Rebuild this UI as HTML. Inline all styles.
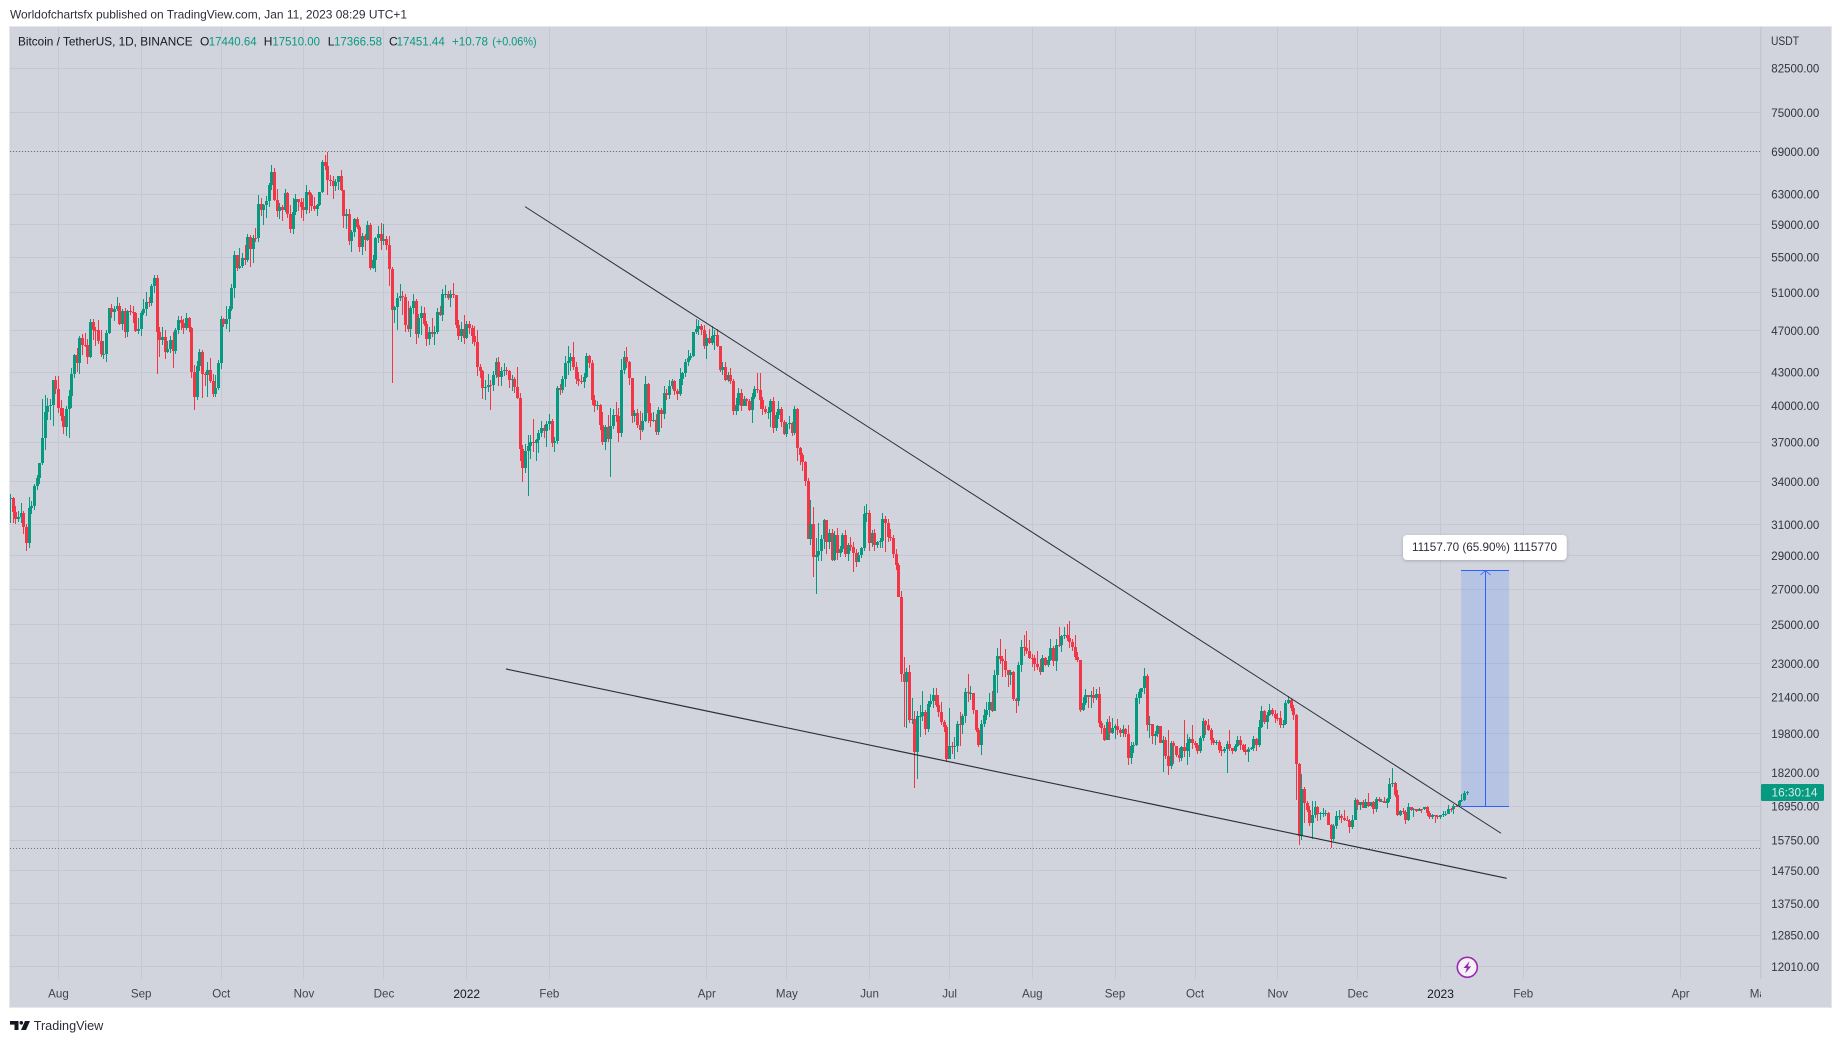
<!DOCTYPE html>
<html lang="en">
<head>
<meta charset="utf-8">
<title>BTCUSDT 1D chart</title>
<style>
html,body{margin:0;padding:0;background:#fff;width:1841px;height:1043px;overflow:hidden}
svg{display:block;font-family:"Liberation Sans",sans-serif}
text{dominant-baseline:central}
</style>
</head>
<body>
<svg id="chart" width="1841" height="1043" viewBox="0 0 1841 1043" xmlns="http://www.w3.org/2000/svg">
  <defs>
    <clipPath id="time-clip"><rect x="10" y="979" width="1751" height="28"/></clipPath>
    <clipPath id="plot-clip"><rect x="10" y="27" width="1751" height="952"/></clipPath>
    <filter id="label-shadow" x="-10%" y="-30%" width="120%" height="170%"><feDropShadow dx="0" dy="1" stdDeviation="1.5" flood-color="#000" flood-opacity="0.2"/></filter>
  </defs>
  <rect x="0" y="0" width="1841" height="1043" fill="#ffffff"/>
  <text x="10" y="14.7" font-size="12" fill="#2a2e39" textLength="397" lengthAdjust="spacingAndGlyphs">Worldofchartsfx published on TradingView.com, Jan 11, 2023 08:29 UTC+1</text>
  <rect x="9" y="26" width="1823" height="982" fill="#e4e6ec"/>
  <rect x="10" y="27" width="1821" height="980" fill="#d1d4dd"/>
  <g id="grid" stroke="#c5c8d3" stroke-width="1" shape-rendering="crispEdges"></g>
  <line x1="1761" y1="27" x2="1761" y2="979" stroke="#c5c8d3" shape-rendering="crispEdges"/>
  <g id="reference-lines"></g>
  <g id="measure"></g>
  <g id="candles" shape-rendering="crispEdges" clip-path="url(#plot-clip)"></g>
  <g id="trendlines"></g>
  <g id="price-labels" font-size="12" fill="#30343f"></g>
  <text x="1771" y="41" font-size="12" fill="#30343f" textLength="28" lengthAdjust="spacingAndGlyphs">USDT</text>
  <rect x="1761" y="784" width="63" height="17" rx="1.5" fill="#089981"/>
  <text x="1771.5" y="792.7" font-size="12" fill="#cfeee7" textLength="46" lengthAdjust="spacingAndGlyphs">16:30:14</text>
  <g id="time-labels" font-size="12" text-anchor="middle" clip-path="url(#time-clip)"></g>
  <g font-size="12" fill="#131722">
    <text x="18" y="41.7" textLength="174.6" lengthAdjust="spacingAndGlyphs">Bitcoin / TetherUS, 1D, BINANCE</text>
    <text x="200" y="41.7">O</text>
    <text x="208.8" y="41.7" fill="#089981" textLength="47.8" lengthAdjust="spacingAndGlyphs">17440.64</text>
    <text x="263.7" y="41.7">H</text>
    <text x="272.4" y="41.7" fill="#089981" textLength="47.6" lengthAdjust="spacingAndGlyphs">17510.00</text>
    <text x="327.8" y="41.7">L</text>
    <text x="334" y="41.7" fill="#089981" textLength="48" lengthAdjust="spacingAndGlyphs">17366.58</text>
    <text x="389" y="41.7">C</text>
    <text x="396.6" y="41.7" fill="#089981" textLength="48.2" lengthAdjust="spacingAndGlyphs">17451.44</text>
    <text x="452" y="41.7" fill="#089981" textLength="36" lengthAdjust="spacingAndGlyphs">+10.78</text>
    <text x="492.3" y="41.7" fill="#089981" textLength="44.3" lengthAdjust="spacingAndGlyphs">(+0.06%)</text>
  </g>
  <g>
    <circle cx="1467.3" cy="967.3" r="10" fill="#f4f2f7" stroke="#9c27b0" stroke-width="1.6"/>
    <polygon points="1469.5,961.3 1463.5,968 1466.8,968 1465.2,973.3 1471.2,966.4 1467.9,966.4" fill="#9c27b0"/>
  </g>
  <g>
    <path fill="#131722" d="M10 1021h8.5v9h-4v-5.4H10z"/>
    <circle cx="21.3" cy="1022.8" r="1.8" fill="#131722"/>
    <polygon points="25,1021 30,1021 26,1030 21,1030" fill="#131722"/>
    <text x="33.7" y="1025.5" font-size="13" fill="#2a2e39" textLength="69.6" lengthAdjust="spacingAndGlyphs">TradingView</text>
  </g>
</svg>
<script>
const firstOpen = 32730;
const closes = [
32820,31880,31380,31520,31780,30840,29790,32140,32290,33650,34290,35350,37340,39470,40020,40030,42240,41460,
39850,39150,38200,39720,40870,42830,44620,43820,46290,45590,45550,44420,47830,47110,47020,45940,44690,44720,46760,49340,48870,49280,49510,47700,48970,46840,49070,48900,48810,46980,47150,
48840,49280,49940,49920,51760,52660,46860,46070,46400,44850,45140,46060,44960,47100,48120,47750,47300,48310,47260,42990,40720,43570,44900,42840,42700,43180,42170,41030,41520,43820,
48140,47630,48200,49220,51470,55320,53790,53950,54960,54660,57470,56000,57370,57360,61670,60880,61530,62010,64280,66000,62210,60690,61290,60850,63080,60330,58450,60590,62270,61890,61300,
60910,63220,62930,61440,60970,61530,63270,67530,66940,64880,64810,64140,64690,65470,63600,60160,60370,56900,58060,59700,58680,56280,57540,57140,58960,53730,54720,57270,57780,56950,
57180,56480,53600,49150,49400,50440,50590,50470,47540,47140,49380,50110,46700,48340,48860,47630,46130,46830,46680,46910,48930,48600,50820,50840,50400,50800,50700,47540,46460,47120,46220,
47720,47290,46430,45830,43430,43080,41550,41680,41860,41820,42730,43920,42590,43100,43180,43110,42250,42370,41660,40680,36450,35030,36280,36680,37000,36970,37150,37710,38170,37920,38480,
38740,36950,37080,41570,41380,42380,43840,44040,44380,43510,42390,42210,42060,42530,44540,43870,40520,39970,40090,38370,37020,38230,37250,38330,39210,39110,37700,43160,
44420,43920,42450,39140,39400,38420,37990,38730,41940,39420,38730,38810,37780,39670,39280,41110,40920,41760,42200,41260,41000,42360,42880,43960,44310,44500,46820,47120,47430,47060,45510,
46280,45810,46410,46580,45500,43170,43440,42250,42760,42160,39530,40070,41150,39940,40550,40380,39680,40800,41500,41370,40480,39710,39450,39450,40430,38120,39240,39740,38600,37630,
38470,38530,37720,39690,36550,36010,35470,34040,30080,31020,28940,29030,29290,30080,31330,29870,30420,28720,30300,29200,29430,30290,29100,29650,29540,29190,28630,29030,29470,31720,31790,
29800,30450,29700,29860,29910,31370,31130,30200,30110,29080,28420,26570,22490,22130,22580,20380,20450,19020,20570,20570,20720,19990,21110,21230,21500,21040,20730,20280,20100,18760,
19290,19240,19300,20230,20180,20550,21640,21590,21600,20850,19960,19330,20210,20590,20830,21190,20780,22430,23390,23220,23150,22680,22450,22580,21310,21250,22950,23840,23770,23640,23300,
23270,22980,22820,22620,23310,22950,23170,23810,23150,23950,23930,24400,24440,24300,24100,23850,23340,23190,20830,21140,21520,21400,21530,21370,21560,20240,20040,19550,20280,19810,20050,
20130,19950,19830,19990,19790,18790,19290,19320,21360,21650,21830,22390,20170,20230,19700,19800,20110,19420,19540,18870,18480,19400,19290,18920,18800,19220,19080,19410,19590,19420,
19310,19060,19620,20330,20160,19950,19530,19420,19440,19130,19060,19150,19370,19180,19070,19270,19550,19330,19120,19040,19160,19200,19570,19330,20090,20770,20290,20600,20820,20630,20490,
20480,20150,20210,21150,21300,20920,20600,18540,15880,17600,17070,16810,16330,16620,16900,16660,16690,16700,16700,16280,15780,16230,16600,16600,16520,16460,16430,16210,16440,17160,
16980,17090,16890,17110,16970,17090,16840,17220,17130,17130,17080,17210,17780,17810,17360,16630,16780,16740,16440,16900,16820,16830,16780,16840,16830,16920,16700,16550,16630,16600,16540,
16620,16670,16670,16850,16830,16950,16940,17130,17180,17440,17451
];
const highs = [
33100,32860,32240,31940,32440,31890,31060,32860,32600,33850,34500,35400,40550,40900,40650,40630,42320,42600,
42600,40480,39780,39970,41350,43400,44700,45310,46450,46700,46780,46200,48150,48150,47400,48050,47100,46000,47050,49380,49760,49500,50500,49870,49250,49350,49150,49630,49600,48900,48250,
49000,50350,51050,50560,51900,52950,52920,47350,47400,47050,45950,46450,46880,47250,48470,48500,48150,48800,48370,47350,43640,44000,45200,45100,43000,43900,44350,42800,42700,44100,
48500,48300,49500,49500,51890,55750,55330,56100,55500,56500,57800,57680,57700,58550,62930,62400,61700,62700,64490,67000,66640,63700,61750,61500,63700,63300,61500,62500,62950,62300,62450,
62400,64270,63550,63100,62600,61600,63300,67800,68530,69000,65600,65460,65000,65550,66400,63450,61000,60950,58300,59800,60000,59000,58000,57800,59400,59200,55300,57400,58850,59200,
59050,57600,57600,53900,49500,51000,51900,51200,50800,50100,49500,50800,50300,48700,49500,49450,48000,47400,48300,47500,49300,49600,51400,51800,51150,51280,52100,50700,48100,47900,48550,
47950,47990,47550,47500,47070,43750,43150,42300,42800,42250,43100,44300,44450,43450,43800,43500,43200,42700,42550,43500,41100,36800,36830,37550,37550,38900,37230,38000,38700,38350,38750,
39270,38850,37400,41700,41950,42650,44500,45500,44800,45850,43900,43000,42750,42880,44750,44600,44150,40950,40450,40150,39450,38400,39250,39850,39700,40300,39850,44250,
44950,45400,44050,42500,39650,39700,39550,39350,42600,42000,40250,39500,39300,39900,39850,41700,41450,42300,42400,42300,41500,43350,43000,44200,45100,44800,46900,48200,48100,47700,47600,
46700,47200,47450,47050,47200,45500,43900,43950,43000,43400,42400,40700,41550,41500,40850,40700,40600,41150,41750,42950,42950,40800,39950,39900,40600,40800,39450,40400,39900,38800,
38650,39150,38650,40000,39800,36650,36150,35500,34250,32650,32200,30150,31100,30350,31400,31300,30700,30700,30550,30750,29600,30450,30650,29800,30200,29850,29400,29250,29550,32250,32400,
31980,30650,30700,29950,30150,31750,31550,31350,30700,30350,29450,28550,26900,23350,22800,22950,21350,20800,20800,21050,21700,20850,21250,21550,21850,21850,21500,21200,20400,20150,
20900,19430,19650,20350,20730,20650,21850,22500,21950,21600,20850,20050,20400,20880,21200,21600,21700,22700,23800,24280,23400,23750,22700,22700,22650,21350,23100,24200,24450,24650,24200,
23500,23450,23650,23230,23450,23350,23400,24250,23900,24230,24900,24450,24900,25050,25200,24250,24450,23600,23200,21400,21800,21520,21680,21900,21800,21900,20350,20150,20450,20570,20490,
20210,20450,20050,20180,20050,20150,19450,19450,21550,21800,21850,22800,22480,20550,20200,19900,20180,20100,19690,19650,19950,19500,19500,19300,19200,19300,20380,19790,19650,20180,
19490,19400,19720,20480,20370,20450,20050,19610,19550,19520,19280,19220,19500,19950,19210,19380,19700,19700,19350,19350,19250,19260,19700,19600,20400,21000,20850,20750,21080,20930,20840,
20700,20800,20390,21300,21480,21370,21050,20670,18600,18150,17650,17150,16950,17150,17130,16950,16730,16880,16820,16750,16300,16300,16770,16800,16650,16820,16600,16490,16640,17250,
17200,17110,17160,17200,17420,17110,17130,17280,17300,17220,17270,17240,18000,18390,17850,17530,16800,16870,16820,17050,16920,16870,16860,16870,16860,16920,16970,16780,16660,16630,16630,
16630,16760,16780,16990,16880,17010,16980,17180,17390,17490,17510
];
const lows = [
31100,31130,31030,31150,31100,30400,29280,29480,31700,32000,33400,33850,35200,36400,38770,38800,38300,41000,
39420,38700,37630,37510,37350,39850,42450,43000,42800,44600,45350,43770,44300,46100,45500,45650,44380,44200,43950,46650,48300,48000,49000,47600,47100,46300,46400,48600,47800,46850,46700,
46500,48600,48450,49450,49500,50950,42840,44400,45550,44200,44750,44750,43370,44700,46700,47050,46700,47100,46850,42500,39600,40500,43100,40700,41700,40750,42000,40800,40750,41400,
43300,47400,47150,46900,49000,50400,53400,53650,53700,54100,54400,53900,54300,56800,56850,60150,58900,59850,61300,63500,62000,60000,59700,59500,60650,59800,58000,57800,60200,60700,59900,
59400,60400,60500,60700,60700,60100,61400,63200,66300,62800,64100,62300,63400,63600,63350,58600,58400,56500,55600,57400,58500,55600,55300,55700,57000,53500,53600,53250,56700,55900,
56500,55850,51700,42000,47750,47100,50050,48650,46850,46850,46350,48700,45700,46300,46600,47500,45500,45600,46400,45550,46650,48450,48000,50400,50200,49450,50450,47300,46100,45900,45680,
46200,46700,45700,45500,42650,42450,40600,40500,41200,39650,41250,42450,41750,41700,42600,42700,41550,41250,41100,40550,35500,34000,34600,32950,35700,36250,35500,36150,37400,37350,36650,
38000,36600,36250,36850,40900,41150,41650,42700,43100,43200,41950,41700,41900,41550,42450,43350,40100,39450,39600,38000,36800,36350,37050,34320,38050,38600,37000,37450,
42800,43350,41800,38550,38600,38100,37150,37850,38650,38550,38250,38650,37600,37550,38100,38900,40500,40550,41500,40900,40500,40850,41800,42550,43600,44100,44400,46650,46550,46550,45200,
44200,45650,45550,45100,45350,43050,42700,42150,42100,41900,39250,39200,39550,39550,39950,40000,39550,38550,40550,41100,39750,39200,39300,38900,38200,37700,37900,38900,38200,37600,
37400,38050,37500,37600,35550,35250,34750,33700,30050,29700,27700,26700,28700,28650,29450,29100,29450,28650,28700,28730,28950,29250,28900,28650,29300,28000,28300,28800,28850,29300,31200,
29300,29550,29300,29500,29500,29500,29250,29850,29950,28850,28100,26550,22100,20100,20050,20250,20200,17620,17950,19650,20350,19750,19850,20950,20900,20950,20500,20150,19850,18650,
18950,18950,18750,19050,19300,19780,20250,21200,21300,20650,19850,19250,18900,20100,20400,20500,20760,20770,21600,23000,22350,22350,21900,22000,21250,20700,21000,22600,23400,23500,23250,
22850,22650,22680,22450,22600,22880,22850,23150,22870,22650,23850,23600,24280,24150,23800,23650,23200,23100,20750,20800,21050,20900,20900,21150,21300,20100,19800,19500,19550,19550,19800,
19570,19750,19660,19650,19650,18520,18550,19000,19300,21100,21360,21550,19900,19620,19350,19320,19650,19400,18230,18750,18130,18350,18550,18820,18650,18680,18820,18500,18850,19150,
19180,18950,19000,19500,19730,19900,19320,19340,19320,19000,18860,19000,18190,19080,18970,19050,19250,19100,19050,18900,18650,19100,19080,19070,19250,20050,20200,20000,20570,20570,20250,
20350,20050,20050,20180,21120,20800,20400,17170,15590,15760,16360,16750,16250,15800,16530,16400,16450,16550,16600,16260,15480,15720,16150,16450,16350,16400,16400,16000,16120,16450,
16790,16790,16880,16880,16900,16900,16680,16730,17100,17090,17070,16870,17090,17660,17280,16580,16600,16650,16300,16400,16760,16560,16750,16780,16700,16810,16590,16470,16490,16340,16470,
16500,16550,16600,16660,16750,16670,16910,16910,17110,17150,17367
];
const firstCandleDay = -18;
const priceTicks = [82500,75000,69000,63000,59000,55000,51000,47000,43000,40000,37000,34000,31000,29000,27000,25000,23000,21400,19800,18200,16950,15750,14750,13750,12850,12010];
const timeTickLabels = ["Aug","Sep","Oct","Nov","Dec","2022","Feb","Apr","May","Jun","Jul","Aug","Sep","Oct","Nov","Dec","2023","Feb","Apr","May"];
const timeTickDays = [0,31,61,92,122,153,184,243,273,304,334,365,396,426,457,487,518,549,608,638];
const upperTrendDays = [174.85,540.67];
const upperTrendPrices = [61320,15990];
const lowerTrendDays = [167.7,542.8];
const lowerTrendPrices = [22744,14516];
const referencePrices = [69000,15476];
const measureDays = [525.7,543.7];
const measurePrices = [16931,28088.7];
const measureLabel = "11157.70 (65.90%) 1115770";

const NS = "http://www.w3.org/2000/svg";
function xOfDay(d){ return 58.5 + 2.668 * d; }
function yOfPrice(p){ return 68.3 + 466.2 * Math.log(82500 / p); }
function make(tag, parent, attrs){
  const el = document.createElementNS(NS, tag);
  for (const k in attrs) el.setAttribute(k, attrs[k]);
  parent.appendChild(el);
  return el;
}

const grid = document.getElementById("grid");
priceTicks.forEach(function(p){
  const y = Math.floor(yOfPrice(p));
  const l = make("line", grid, {x1:10, x2:1761, y1:y+0.5, y2:y+0.5});
  
  
});
timeTickDays.forEach(function(d){
  const x = Math.floor(xOfDay(d));
  const l = make("line", grid, {x1:x+0.5, x2:x+0.5, y1:27, y2:979});
  
  
});

const refs = document.getElementById("reference-lines");
referencePrices.forEach(function(p){
  const y = Math.floor(yOfPrice(p));
  const l = make("line", refs, {x1:10, x2:1761, y1:y+0.5, y2:y+0.5, stroke:"#6e727d", "stroke-width":1, "stroke-dasharray":"1 2", "shape-rendering":"crispEdges"});
  
  
});

const measure = document.getElementById("measure");
const mx0 = xOfDay(measureDays[0]);
const mx1 = xOfDay(measureDays[1]);
const myBase = Math.floor(yOfPrice(measurePrices[0]));
const myTop = Math.floor(yOfPrice(measurePrices[1]));
const mxMid = Math.floor((mx0 + mx1) / 2);
const mRect = make("rect", measure, {x:mx0, y:myTop, width:mx1-mx0, height:myBase-myTop, fill:"#2962ff", "fill-opacity":0.15});


const mBase = make("line", measure, {x1:mx0, x2:mx1, y1:myBase+0.5, y2:myBase+0.5, stroke:"#2962ff", "stroke-width":1, "shape-rendering":"crispEdges"});


const mTop = make("line", measure, {x1:mx0, x2:mx1, y1:myTop+0.5, y2:myTop+0.5, stroke:"#2962ff", "stroke-width":1, "shape-rendering":"crispEdges"});


const mArrow = make("line", measure, {x1:mxMid+0.5, x2:mxMid+0.5, y1:myTop, y2:myBase, stroke:"#2962ff", "stroke-width":1, "shape-rendering":"crispEdges"});


const mHead = make("path", measure, {d:"M"+(mxMid-4.5)+" "+(myTop+5)+"L"+(mxMid+0.5)+" "+(myTop+0.5)+"L"+(mxMid+5.5)+" "+(myTop+5), fill:"none", stroke:"#2962ff", "stroke-width":0.8});


const mBox = make("rect", measure, {x:1403, y:myTop-35, width:163.7, height:25, rx:4, fill:"#ffffff", filter:"url(#label-shadow)"});


const mText = make("text", measure, {x:1412, y:myTop-22.8, "font-size":12, fill:"#2a2e39", textLength:145, lengthAdjust:"spacingAndGlyphs"});
mText.textContent = measureLabel;



const candles = document.getElementById("candles");
closes.forEach(function(c, i){
  const o = i === 0 ? firstOpen : closes[i-1];
  const color = c >= o ? "#089981" : "#f23645";
  const cx = Math.floor(xOfDay(firstCandleDay + i));
  const yH = Math.round(yOfPrice(highs[i]));
  const yL = Math.round(yOfPrice(lows[i]));
  const yTop = Math.round(yOfPrice(Math.max(o, c)));
  const yBot = Math.round(yOfPrice(Math.min(o, c)));
  const wick = make("rect", candles, {x:cx, y:yH, width:1, height:Math.max(1, yL-yH), fill:color});
  
  
  const body = make("rect", candles, {x:cx-1, y:yTop, width:3, height:Math.max(1, yBot-yTop), fill:color});
  
  
});

const trends = document.getElementById("trendlines");
const tUpper = make("line", trends, {x1:xOfDay(upperTrendDays[0]), y1:yOfPrice(upperTrendPrices[0]), x2:xOfDay(upperTrendDays[1]), y2:yOfPrice(upperTrendPrices[1]), stroke:"#2a2e39", "stroke-width":1});


const tLower = make("line", trends, {x1:xOfDay(lowerTrendDays[0]), y1:yOfPrice(lowerTrendPrices[0]), x2:xOfDay(lowerTrendDays[1]), y2:yOfPrice(lowerTrendPrices[1]), stroke:"#2a2e39", "stroke-width":1.15});



const priceLabels = document.getElementById("price-labels");
priceTicks.forEach(function(p){
  const t = make("text", priceLabels, {x:1771.3, y:yOfPrice(p)+0.3, textLength:48, lengthAdjust:"spacingAndGlyphs"});
  t.textContent = p.toFixed(2);
  
  
});

const timeLabels = document.getElementById("time-labels");
timeTickLabels.forEach(function(s, i){
  const isYear = /^\d+$/.test(s);
  const t = make("text", timeLabels, {x:xOfDay(timeTickDays[i]), y:994, fill:isYear ? "#131722" : "#40444f", "font-size":isYear ? 12 : 11.6});
  t.textContent = s;
  
  
});
</script>
</body>
</html>
